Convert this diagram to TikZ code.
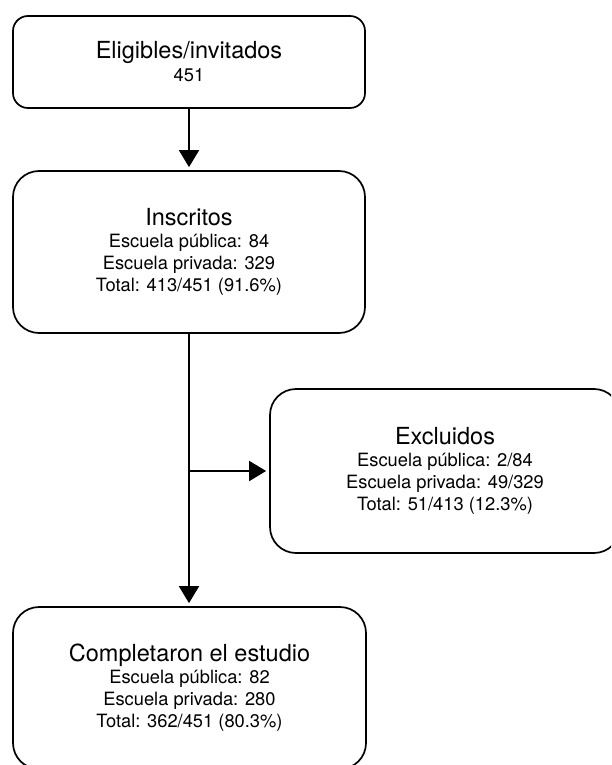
\documentclass[tikz,border=0pt]{standalone}
\usepackage{fontspec}
\setmainfont{TeX Gyre Heros}
\usetikzlibrary{arrows.meta}
\tikzset{
  box/.style={draw, line width=1.7pt, rounded corners=26pt, align=center, inner sep=0pt,
    font=\fontsize{18.3}{22}\selectfont},
  conn/.style={line width=1.7pt, -{Triangle[width=20pt,length=17pt]}, shorten >=3pt},
}
\newcommand{\boxtitle}[1]{{\fontsize{23.5}{22}\selectfont #1}}
\begin{document}
\begin{tikzpicture}[x=1pt,y=-1pt]
\useasboundingbox (0,0) rectangle (611,765);
\clip (0,0) rectangle (611,765);
\fill[white] (0,0) rectangle (611,765);
\node[box, rounded corners=15pt, minimum width=352pt, minimum height=92pt] (elig) at (189,62)
  {\boxtitle{Eligibles/invitados}\\[1pt]451};
\node[box, minimum width=352pt, minimum height=162pt] (insc) at (189,252)
  {\boxtitle{Inscritos}\\Escuela pública: 84\\Escuela privada: 329\\Total: 413/451 (91.6\%)};
\node[box, minimum width=350pt, minimum height=164pt] (excl) at (445,471)
  {\boxtitle{Excluidos}\\Escuela pública: 2/84\\Escuela privada: 49/329\\Total: 51/413 (12.3\%)};
\node[box, minimum width=353pt, minimum height=162pt] (comp) at (189.5,688)
  {\boxtitle{Completaron el estudio}\\Escuela pública: 82\\Escuela privada: 280\\Total: 362/451 (80.3\%)};
\coordinate (split) at (189,471);
\draw[conn] (elig.south) -- (insc.north);
\draw[conn] (insc.south) -- (insc.south |- comp.north);
\draw[conn] (split) -- (excl.west);
\end{tikzpicture}
\end{document}
